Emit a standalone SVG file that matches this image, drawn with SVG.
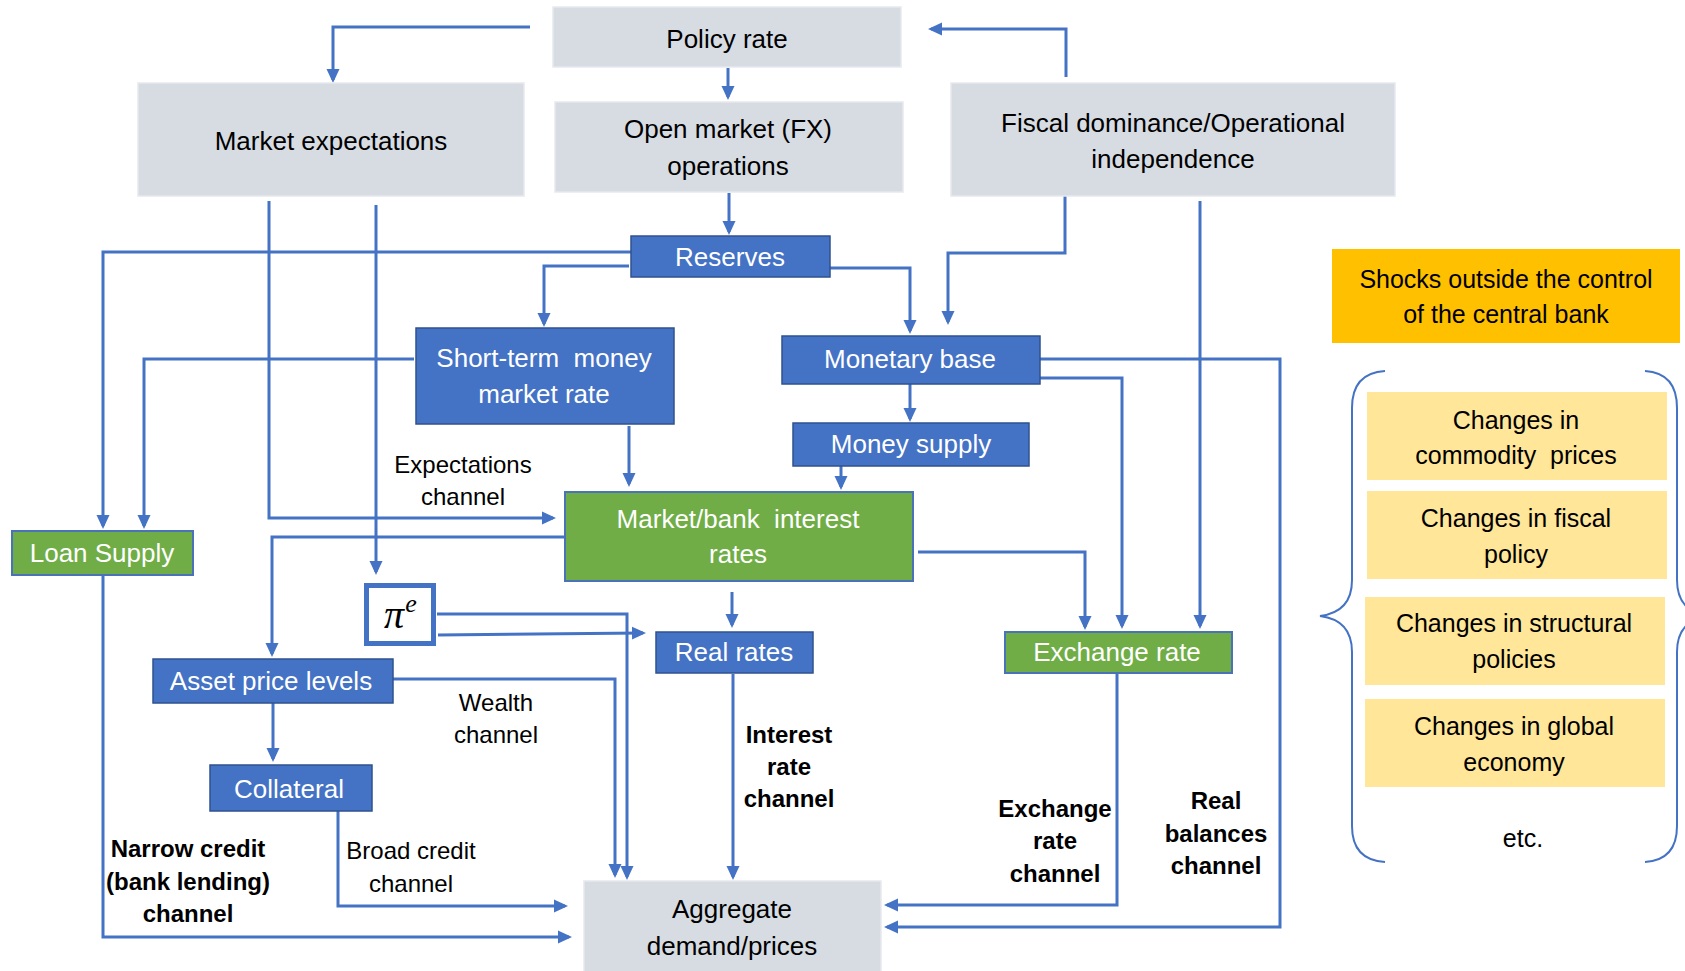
<svg xmlns="http://www.w3.org/2000/svg" width="1685" height="971" viewBox="0 0 1685 971">
<style>
.g{fill:#D7DCE3;stroke:#E6E9EE;stroke-width:1.5}
.b{fill:#4472C4;stroke:#2F528F;stroke-width:1.5}
.gr{fill:#70AD47;stroke:#4A72B8;stroke-width:2}
.y{fill:#FFE699}
.o{fill:#FFC000}
text{font-family:"Liberation Sans",Arial,sans-serif;font-size:26px;text-anchor:middle;fill:#000;white-space:pre}
.w{fill:#fff}
.l{font-size:24px}
.s{font-size:25px}
.bd{font-weight:bold}
.m{font-family:"Liberation Serif","DejaVu Serif",serif;font-style:italic}
.c path{fill:none;stroke:#4472C4;stroke-width:3;marker-end:url(#ah)}
.brace{fill:none;stroke:#4472C4;stroke-width:2}
</style>
<defs>
<marker id="ah" markerUnits="userSpaceOnUse" markerWidth="15" markerHeight="15" viewBox="0 0 15 15" refX="11" refY="7.5" orient="auto">
<path d="M0,1 L14,7.5 L0,14 z" fill="#4472C4"/>
</marker>
</defs>
<rect width="1685" height="971" fill="#fff"/>

<g id="connectors" class="c">
<path d="M530,27 H333 V80"/>
<path d="M728,68 V97"/>
<path d="M1066,77 V29 H931"/>
<path d="M729,193 V232"/>
<path d="M631,252 H103 V526"/>
<path d="M629,266 H544 V324"/>
<path d="M830,268 H910 V331"/>
<path d="M1065,194 V253 H948 V322"/>
<path d="M1200,201 V626"/>
<path d="M269,201 V518 H553"/>
<path d="M376,205 V572"/>
<path d="M414,359 H144 V526"/>
<path d="M629,426 V484"/>
<path d="M910,384 V419"/>
<path d="M841,466 V487"/>
<path d="M1040,378 H1122 V626"/>
<path d="M1040,359 H1280 V927 H887"/>
<path d="M565,537 H272 V654"/>
<path d="M732,592 V625"/>
<path d="M918,552 H1085 V627"/>
<path d="M438,635 L643,633"/>
<path d="M437,614 H627 V877"/>
<path d="M393,679 H615 V875"/>
<path d="M273,703 V759"/>
<path d="M338,811 V906 H565"/>
<path d="M103,576 V937 H569"/>
<path d="M733,674 V877"/>
<path d="M1117,674 V905 H887"/>
</g>

<g id="policy-rate"><rect class="g" x="553" y="7" width="348" height="60"/><text x="727" y="48">Policy rate</text></g>
<g id="market-expectations"><rect class="g" x="138" y="83" width="386" height="113"/><text x="331" y="150">Market expectations</text></g>
<g id="open-market"><rect class="g" x="555" y="102" width="348" height="90"/><text x="728" y="138">Open market (FX)</text><text x="728" y="175">operations</text></g>
<g id="fiscal-dominance"><rect class="g" x="951" y="83" width="444" height="113"/><text x="1173" y="132">Fiscal dominance/Operational</text><text x="1173" y="168">independence</text></g>
<g id="reserves"><rect class="b" x="631" y="236" width="199" height="41"/><text class="w" x="730" y="266">Reserves</text></g>
<g id="short-term"><rect class="b" x="416" y="328" width="258" height="96"/><text class="w" x="544" y="367">Short-term  money</text><text class="w" x="544" y="403">market rate</text></g>
<g id="monetary-base"><rect class="b" x="782" y="336" width="258" height="48"/><text class="w" x="910" y="368">Monetary base</text></g>
<g id="money-supply"><rect class="b" x="793" y="423" width="236" height="43"/><text class="w" x="911" y="453">Money supply</text></g>
<g id="market-bank-rates"><rect class="gr" x="565" y="492" width="348" height="89"/><text class="w" x="738" y="528">Market/bank  interest</text><text class="w" x="738" y="563">rates</text></g>
<g id="loan-supply"><rect class="gr" x="12" y="531" width="181" height="44"/><text class="w" x="102" y="562">Loan Supply</text></g>
<g id="pi-e"><rect x="366.5" y="585.5" width="67" height="58" fill="#fff" stroke="#4472C4" stroke-width="5"/><text class="m" x="394" y="628" style="font-size:40px">π</text><text class="m" x="411" y="612" style="font-size:26px">e</text></g>
<g id="real-rates"><rect class="b" x="656" y="632" width="157" height="41"/><text class="w" x="734" y="661">Real rates</text></g>
<g id="exchange-rate"><rect class="gr" x="1005" y="632" width="227" height="41"/><text class="w" x="1117" y="661">Exchange rate</text></g>
<g id="asset-price-levels"><rect class="b" x="153" y="659" width="240" height="44"/><text class="w" x="271" y="690">Asset price levels</text></g>
<g id="collateral"><rect class="b" x="210" y="765" width="162" height="46"/><text class="w" x="289" y="798">Collateral</text></g>
<g id="aggregate-demand"><rect class="g" x="584" y="881" width="297" height="92"/><text x="732" y="918">Aggregate</text><text x="732" y="955">demand/prices</text></g>

<g id="labels">
<text class="l" x="463" y="473">Expectations</text><text class="l" x="463" y="505">channel</text>
<text class="l" x="496" y="711">Wealth</text><text class="l" x="496" y="743">channel</text>
<text class="l bd" x="789" y="743">Interest</text><text class="l bd" x="789" y="775">rate</text><text class="l bd" x="789" y="807">channel</text>
<text class="l bd" x="1055" y="817">Exchange</text><text class="l bd" x="1055" y="849">rate</text><text class="l bd" x="1055" y="882">channel</text>
<text class="l bd" x="1216" y="809">Real</text><text class="l bd" x="1216" y="842">balances</text><text class="l bd" x="1216" y="874">channel</text>
<text class="l bd" x="188" y="857">Narrow credit</text><text class="l bd" x="188" y="890">(bank lending)</text><text class="l bd" x="188" y="922">channel</text>
<text class="l" x="411" y="859">Broad credit</text><text class="l" x="411" y="892">channel</text>
</g>

<g id="shocks"><rect class="o" x="1332" y="249" width="348" height="94"/><text class="s" x="1506" y="288">Shocks outside the control</text><text class="s" x="1506" y="323">of the central bank</text></g>
<g id="commodity-prices"><rect class="y" x="1367" y="392" width="300" height="88"/><text class="s" x="1516" y="429">Changes in</text><text class="s" x="1516" y="464">commodity  prices</text></g>
<g id="fiscal-policy"><rect class="y" x="1367" y="491" width="300" height="88"/><text class="s" x="1516" y="527">Changes in fiscal</text><text class="s" x="1516" y="563">policy</text></g>
<g id="structural-policies"><rect class="y" x="1365" y="597" width="300" height="88"/><text class="s" x="1514" y="632">Changes in structural</text><text class="s" x="1514" y="668">policies</text></g>
<g id="global-economy"><rect class="y" x="1365" y="699" width="300" height="88"/><text class="s" x="1514" y="735">Changes in global</text><text class="s" x="1514" y="771">economy</text></g>
<g id="etc"><text class="s" x="1523" y="847">etc.</text></g>
<g id="braces">
<path class="brace" d="M1385,371 Q1352,373 1352,408 V580 Q1352,612 1320,616 Q1352,620 1352,652 V826 Q1352,860 1385,862"/>
<path class="brace" d="M1645,371 Q1677,373 1677,408 V580 Q1677,612 1709,616 Q1677,620 1677,652 V826 Q1677,860 1645,862"/>
</g>
</svg>
